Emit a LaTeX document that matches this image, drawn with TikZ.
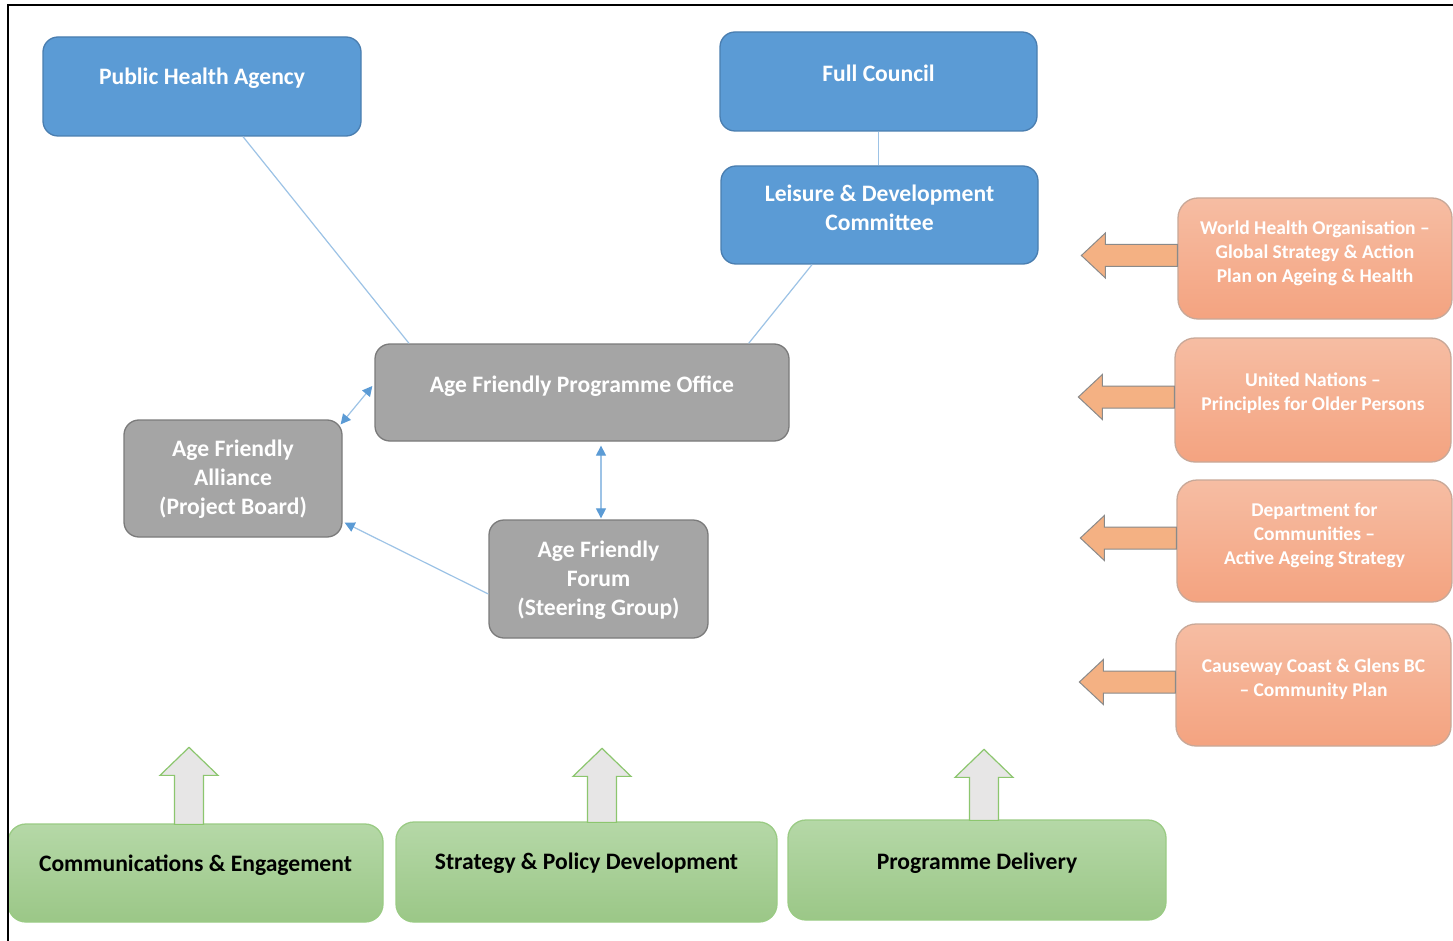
\documentclass[tikz,border=0pt]{standalone}
\usepackage{fontspec}
\setmainfont{Carlito}
\usetikzlibrary{calc,arrows.meta}
\definecolor{blueF}{HTML}{5B9BD5}
\definecolor{blueD}{HTML}{4A7EB0}
\definecolor{grayF}{HTML}{A5A5A5}
\definecolor{grayD}{HTML}{7B7B7B}
\definecolor{lnk}{HTML}{9DC3E6}
\definecolor{lnkD}{HTML}{5B9BD5}
\definecolor{orT}{HTML}{F6BDA3}
\definecolor{orB}{HTML}{F4A380}
\definecolor{orD}{HTML}{C8A898}
\definecolor{arrO}{HTML}{F4B183}
\definecolor{arrD}{HTML}{8A8A8A}
\definecolor{grT}{HTML}{B5D8A7}
\definecolor{grB}{HTML}{9BC787}
\definecolor{grD}{HTML}{9ACB84}
\definecolor{upF}{HTML}{E7E6E6}
\definecolor{upD}{HTML}{8CC66E}
\tikzset{
 box/.style={rectangle, rounded corners=15pt, line width=1.3pt, inner sep=0pt},
 bluebox/.style={box, fill=blueF, draw=blueD},
 graybox/.style={box, fill=grayF, draw=grayD},
 orbox/.style={box, rounded corners=20pt, top color=orT, bottom color=orB, draw=orD},
 grbox/.style={box, rounded corners=18pt, top color=grT, bottom color=grB, draw=grD},
 wtxt/.style={text=white, font=\fontsize{23.6}{29}\selectfont\bfseries, align=center, inner sep=0pt},
 otxt/.style={text=white, font=\fontsize{19.5}{24}\selectfont\bfseries, align=center, inner sep=0pt},
 btxt/.style={text=black, font=\fontsize{23.6}{29}\selectfont\bfseries, align=center, inner sep=0pt},
 link/.style={draw=lnk, line width=1.2pt},
 tipb/.style={line width=1.2pt, draw=lnk},
 darr/.style={tipb, {Triangle[length=10pt,width=10pt,color=lnkD]}-{Triangle[length=10pt,width=10pt,color=lnkD]}},
 sarr/.style={tipb, -{Triangle[length=10pt,width=10pt,color=lnkD]}},
 oarrow/.style={fill=arrO, draw=arrD, line width=1pt, line join=miter},
 uarrow/.style={fill=upF, draw=upD, line width=1.2pt, line join=miter},
 frame/.style={draw=black, line width=2pt}
}
\newcommand\orarrow[1]{%
 \draw[oarrow] ($(#1.west)+(0,-14)$) -- ++(-72,0) -- ++(0,-11.5) -- ++(-24,22.5)
   -- ++(24,22.5) -- ++(0,-11.5) -- ++(72,0) -- cycle;}
\newcommand\uparr[3]{%
 \draw[uarrow] ($(#1.north)+(#2-14.5,1)$) -- ++(0,-#3) -- ++(-14.5,0) -- ++(29,-28)
   -- ++(29,28) -- ++(-14.5,0) -- ++(0,#3) -- cycle;}
\begin{document}
\begin{tikzpicture}[x=1pt,y=-1pt]
\useasboundingbox (0,0) rectangle (1453,941);
\fill[white] (0,0) rectangle (1453,941);

% blue boxes
\node[bluebox, minimum width=318pt, minimum height=99pt,
  label={[wtxt,name=phat,yshift=8.5pt]center:Public Health Agency}] (pha) at (202,86.5) {};
\node[bluebox, minimum width=317pt, minimum height=99pt,
  label={[wtxt,name=fct,yshift=8.5pt]center:Full Council}] (fc) at (878.5,81.5) {};
\node[bluebox, minimum width=317pt, minimum height=98pt,
  label={[wtxt,name=leist,yshift=7.5pt]center:{Leisure \& Development\\Committee}}] (leis) at (879.5,215) {};

% gray boxes
\node[graybox, minimum width=414pt, minimum height=97pt,
  label={[wtxt,name=officet,yshift=6.5pt]center:Age Friendly Programme Office}] (office) at (582,392.5) {};
\node[graybox, minimum width=218pt, minimum height=117pt,
  label={[wtxt,name=alliancet,yshift=-0.5pt]center:{Age Friendly\\Alliance\\(Project Board)}}] (alliance) at (233,478.5) {};
\node[graybox, minimum width=219pt, minimum height=118pt,
  label={[wtxt,name=forumt,yshift=-1pt]center:{Age Friendly\\Forum\\(Steering Group)}}] (forum) at (598.5,579) {};

% connectors
\draw[link] ([xshift=41pt]pha.south) -- ([xshift=-173pt]office.north);
\draw[link] (fc.south) -- (fc.south |- leis.north);
\draw[link] ([xshift=-67.5pt]leis.south) -- ([xshift=-41pt]office.north east);
\draw[darr] ([shift={(-2pt,6.5pt)}]office.west) -- ([shift={(-2pt,-5pt)}]alliance.north east);
\draw[darr] ([shift={(19pt,-4pt)}]office.south) -- ([shift={(2.5pt,1pt)}]forum.north);
\draw[sarr] ([yshift=-15pt]forum.west) -- ([shift={(2pt,15pt)}]alliance.south east);

% orange boxes
\node[orbox, minimum width=274pt, minimum height=121pt,
  label={[otxt,name=whot,yshift=5.5pt]center:{World Health Organisation –\\Global Strategy \& Action\\Plan on Ageing \& Health}}] (who) at (1315,258.5) {};
\node[orbox, minimum width=276pt, minimum height=124pt,
  label={[otxt,name=unt,yshift=6.5pt]center:{United Nations –\\Principles for Older Persons}}] (un) at (1313,400) {};
\node[orbox, minimum width=275pt, minimum height=122pt,
  label={[otxt,name=dfct,yshift=5.5pt]center:{Department for\\Communities –\\Active Ageing Strategy}}] (dfc) at (1314.5,541) {};
\node[orbox, minimum width=275pt, minimum height=122pt,
  label={[otxt,name=cct,yshift=6pt]center:{Causeway Coast \& Glens BC\\– Community Plan}}] (cc) at (1313.5,685) {};
\orarrow{who}
\orarrow{un}
\orarrow{dfc}
\orarrow{cc}

% green boxes
\node[grbox, minimum width=375pt, minimum height=98pt,
  label={[btxt,name=g1t,yshift=8pt]center:Communications \& Engagement}] (g1) at (195.5,873) {};
\node[grbox, minimum width=381pt, minimum height=100pt,
  label={[btxt,name=g2t,yshift=9pt]center:Strategy \& Policy Development}] (g2) at (586.5,872) {};
\node[grbox, minimum width=378pt, minimum height=100pt,
  label={[btxt,name=g3t,yshift=7pt]center:Programme Delivery}] (g3) at (977,870) {};
\uparr{g1}{-6.5}{49}
\uparr{g2}{15.5}{46}
\uparr{g3}{7}{43}

% frame
\draw[frame] (8,941) -- (8,5) -- (1453,5);
\end{tikzpicture}
\end{document}
